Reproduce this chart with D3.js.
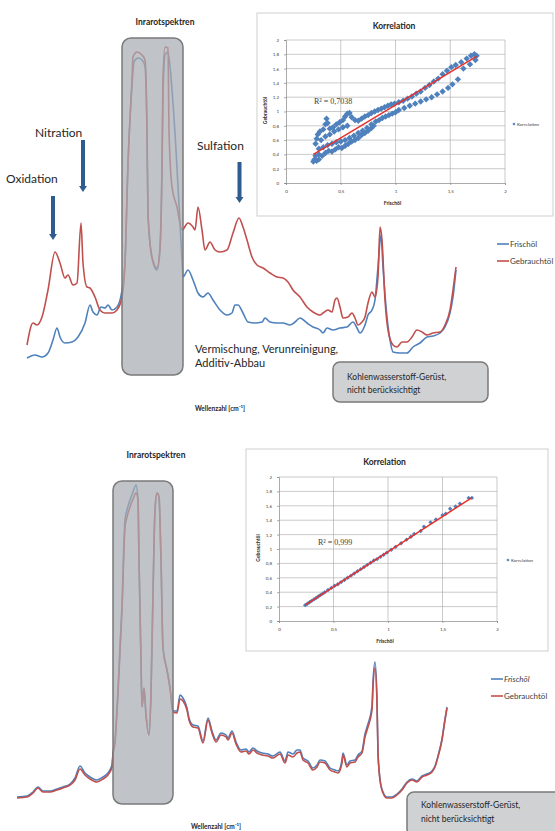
<!DOCTYPE html>
<html>
<head>
<meta charset="utf-8">
<script src="https://cdn.jsdelivr.net/npm/d3@7"></script>
<style>
  body { margin: 0; background: #fff; }
  svg { display: block; }
</style>
</head>
<body>
<div class="vis"></div>
<script>
// ---- data: spectra (Messpunkt, Absorbanz) ----
const frischTop = [
  [7,0.32],[15,0.35],[22,0.33],[28,0.37],[33,0.50],[37,0.62],[40,0.53],[45,0.47],[52,0.48],[58,0.53],
  [65,0.67],[70,0.85],[73,0.78],[77,0.75],[81,0.83],[85,0.82],[88,0.85],[92,0.80],[97,0.83],[102,1.00],
  [105,1.28],[108,2.25],[112,3.05],[114,3.28],[118,3.32],[122,3.30],[125,3.24],[127,2.55],[128,1.75],[132,1.32],
  [137,1.20],[140,1.40],[142,2.20],[143,2.95],[145,3.35],[148,3.38],[152,3.00],[156,2.40],[159,1.85],[162,1.30],
  [163,1.13],[168,1.20],[173,1.10],[178,0.97],[183,0.93],[188,0.97],[193,0.90],[200,0.80],[207,0.75],[212,0.77],
  [215,0.85],[218,0.85],[223,0.77],[228,0.68],[235,0.67],[242,0.68],[245,0.72],[250,0.68],[257,0.67],[263,0.67],
  [270,0.65],[275,0.68],[280,0.72],[287,0.67],[293,0.63],[300,0.60],[303,0.57],[307,0.62],[313,0.60],[320,0.62],
  [327,0.63],[333,0.68],[337,0.62],[340,0.57],[345,0.65],[348,0.75],[352,0.80],[355,0.90],[358,1.23],[361,1.55],
  [363,1.23],[367,0.73],[370,0.50],[373,0.38],[380,0.37],[387,0.37],[393,0.43],[400,0.47],[407,0.53],[413,0.54],
  [420,0.57],[425,0.63],[430,0.77],[433,0.93],[436,1.20]
];
const gebrauchtTop = [
  [7,0.45],[13,0.67],[17,0.65],[22,0.73],[28,1.00],[35,1.38],[40,1.27],[45,1.12],[48,1.15],[53,1.05],
  [57,1.07],[61,1.67],[63,1.27],[67,1.03],[70,1.02],[75,0.93],[80,0.80],[85,0.77],[92,0.77],[97,0.80],
  [102,0.93],[105,1.27],[108,2.27],[112,3.10],[113,3.33],[117,3.38],[122,3.35],[125,3.30],[127,2.60],[128,1.77],
  [132,1.33],[137,1.22],[140,1.43],[142,2.27],[143,3.10],[145,3.43],[148,3.42],[149,2.60],[152,2.03],[157,1.83],
  [162,1.60],[168,1.67],[173,1.63],[175,1.60],[178,1.83],[182,1.60],[185,1.40],[190,1.48],[195,1.40],
  [200,1.38],[207,1.40],[213,1.57],[219,1.72],[223,1.63],[227,1.50],[232,1.33],[237,1.25],[243,1.22],[250,1.17],
  [257,1.13],[263,1.12],[268,1.08],[273,1.00],[280,0.93],[287,0.83],[293,0.78],[300,0.75],[303,0.77],[308,0.80],
  [312,0.78],[315,0.90],[317,0.92],[320,0.83],[323,0.72],[328,0.73],[332,0.77],[335,0.72],[338,0.65],[342,0.68],
  [345,0.73],[348,0.87],[352,0.98],[355,0.93],[358,1.13],[360,1.63],[362,1.50],[365,0.90],[368,0.60],[373,0.45],
  [377,0.43],[382,0.48],[387,0.48],[392,0.53],[397,0.60],[402,0.58],[407,0.55],[413,0.57],[420,0.58],[425,0.65],
  [430,0.80],[433,1.00],[436,1.23]
];

const posBottom = [
  7,17,23,28,33,40,47,53,60,65, 70,75,80,87,93,98,102,103,105,108,
  112,115,117,120,123,126,128,129,131,132, 134,136,139,141,143,145,147,149,151,153,
  157,160,163,167,170,173,177,179,183,188, 193,198,202,206,211,216,218,222,226,231,
  236,239,243,247,252,258,263,270,275,278, 283,287,290,293,298,303,307,310,315,320,
  325,328,332,333,337,340,345,348,352,355, 358,362,363,365,367,368,370,373,377,382,
  387,392,397,402,407,412,417,422,425,428, 432,435,437
];
const gebrauchtBottom = [
  0.12,0.13,0.17,0.22,0.18,0.18,0.20,0.22,0.25,0.30, 0.41,0.35,0.31,0.28,0.31,0.35,0.43,0.55,0.67,1.17,
  2.00,2.83,2.93,3.03,3.11,3.17,3.10,2.50,1.50,1.03, 1.22,0.95,0.75,1.17,2.17,3.00,3.17,3.13,2.50,1.62,
  1.40,1.22,0.98,0.97,1.11,1.09,1.00,0.90,0.83,0.82, 0.67,0.90,0.77,0.68,0.75,0.73,0.70,0.77,0.66,0.58,
  0.59,0.56,0.60,0.57,0.55,0.54,0.52,0.56,0.47,0.55, 0.53,0.57,0.58,0.50,0.47,0.40,0.43,0.48,0.47,0.40,
  0.38,0.37,0.47,0.55,0.43,0.47,0.48,0.53,0.57,0.73, 0.83,1.00,1.23,1.42,1.07,0.57,0.30,0.17,0.12,0.12,
  0.15,0.20,0.27,0.30,0.28,0.33,0.35,0.38,0.43,0.53, 0.70,0.90,1.02
];
const frischBottom = [
  0.13,0.14,0.18,0.23,0.19,0.19,0.21,0.23,0.26,0.32, 0.44,0.37,0.33,0.30,0.33,0.37,0.45,0.57,0.69,1.20,
  2.05,2.90,3.00,3.10,3.18,3.25,3.10,2.50,1.50,1.03, 1.22,0.95,0.75,1.17,2.17,3.00,3.17,3.13,2.50,1.62,
  1.40,1.22,0.99,0.99,1.15,1.12,1.02,0.92,0.85,0.84, 0.69,0.92,0.79,0.70,0.77,0.75,0.72,0.79,0.68,0.60,
  0.61,0.58,0.62,0.59,0.57,0.56,0.54,0.58,0.49,0.58, 0.56,0.60,0.60,0.52,0.49,0.42,0.45,0.50,0.49,0.42,
  0.40,0.39,0.50,0.57,0.45,0.49,0.50,0.55,0.59,0.76, 0.86,1.04,1.28,1.48,1.10,0.58,0.31,0.18,0.13,0.13,
  0.16,0.21,0.28,0.31,0.29,0.34,0.36,0.39,0.44,0.54, 0.71,0.91,1.03
];

// ---- data: Korrelation (Frischöl, Gebrauchtöl) ----
const korrTop = [
  [0.25,0.30],[0.26,0.33],[0.28,0.31],[0.30,0.33],[0.27,0.38],[0.30,0.40],[0.33,0.38],[0.36,0.42],[0.39,0.45],[0.42,0.44],
  [0.45,0.47],[0.48,0.50],[0.51,0.49],[0.54,0.52],[0.57,0.55],[0.60,0.58],[0.63,0.60],[0.66,0.63],[0.69,0.67],[0.72,0.70],
  [0.75,0.73],[0.78,0.77],[0.80,0.80],
  [0.30,0.48],[0.34,0.50],[0.38,0.53],[0.42,0.55],[0.46,0.57],[0.50,0.58],[0.54,0.60],[0.58,0.63],[0.62,0.66],[0.66,0.70],
  [0.70,0.73],[0.74,0.77],[0.78,0.82],
  [0.27,0.55],[0.28,0.62],[0.29,0.68],[0.31,0.72],[0.34,0.75],[0.36,0.82],[0.37,0.90],[0.38,0.84],[0.40,0.76],[0.43,0.78],
  [0.46,0.82],[0.49,0.85],[0.52,0.88],[0.54,0.93],[0.56,0.97],[0.58,0.98],[0.60,0.92],[0.63,0.88],[0.66,0.87],[0.69,0.90],
  [0.72,0.93],[0.75,0.95],[0.78,0.98],[0.81,1.00],[0.84,1.02],[0.87,1.04],[0.90,1.06],[0.93,1.08],[0.96,1.10],[0.99,1.11],
  [0.32,0.60],[0.36,0.65],[0.40,0.68],[0.44,0.72],[0.48,0.75],[0.52,0.78],[0.56,0.80],
  [0.82,0.86],[0.85,0.88],[0.88,0.91],[0.91,0.93],[0.94,0.95],[0.97,0.97],[1.00,0.99],
  [1.03,1.13],[1.07,1.15],[1.11,1.18],[1.15,1.21],[1.19,1.25],[1.23,1.28],[1.27,1.33],[1.31,1.37],[1.35,1.42],[1.39,1.46],
  [1.43,1.52],[1.47,1.57],[1.51,1.62],[1.55,1.65],[1.60,1.69],[1.65,1.74],[1.69,1.78],[1.72,1.80],[1.74,1.78],
  [1.03,1.02],[1.08,1.05],[1.13,1.08],[1.18,1.11],[1.23,1.14],[1.28,1.17],[1.33,1.20],[1.38,1.24],[1.43,1.28],[1.48,1.33],
  [1.52,1.38],[1.57,1.45],[1.62,1.60],[1.68,1.66],[1.73,1.72]
];
const korrBottomX = [
  0.24,0.26,0.28,0.30,0.32,0.34,0.36,0.38,0.40,0.42,0.45,0.48,0.51,0.54,0.57,0.60,0.63,0.66,0.69,0.72,
  0.75,0.78,0.81,0.84,0.87,0.90,0.93,0.96,0.99,1.03,1.07,1.12,1.17,1.21,1.24,1.30,1.33,1.39,1.44,1.50,
  1.53,1.57,1.62,1.66,1.74,1.77
];
const korrBottomY = [
  0.22,0.24,0.26,0.28,0.30,0.32,0.34,0.36,0.38,0.40,0.43,0.46,0.49,0.51,0.54,0.57,0.60,0.63,0.66,0.69,
  0.72,0.75,0.78,0.81,0.84,0.86,0.89,0.92,0.95,0.99,1.03,1.08,1.13,1.17,1.21,1.25,1.31,1.37,1.41,1.47,
  1.49,1.56,1.59,1.63,1.71,1.71
];
// linear trend: [slope, intercept], R²
const trendTop = [0.92, 0.17];
const trendBottom = [0.975, -0.012];
const r2Labels = ['R² = 0,7038', 'R² = 0,999'];

const korrTicksY = [0, 0.2, 0.4, 0.6, 0.8, 1, 1.2, 1.4, 1.6, 1.8, 2];
const korrTicksX = [0, 0.5, 1, 1.5, 2];
const seriesNames = ['Frischöl', 'Gebrauchtöl'];

// ---- drawing ----
const width = 555, height = 831;
const blue = '#4f81bd', red = '#c0504d', arrowCol = '#2e5c8e';
const font = 'Lato, "Open Sans", sans-serif';

let svg = d3.select('.vis').append('svg')
    .attr('width', width)
    .attr('height', height)
    .style('font-family', font);

function drawSpectrum(x, y, frisch, gebraucht) {
    let line = d3.line()
        .x(function (d) { return x(d[0]); })
        .y(function (d) { return y(d[1]); })
        .curve(d3.curveMonotoneX);
    svg.append('path').datum(frisch)
        .attr('d', line).attr('fill', 'none')
        .attr('stroke', blue).attr('stroke-width', 1.6);
    svg.append('path').datum(gebraucht)
        .attr('d', line).attr('fill', 'none')
        .attr('stroke', red).attr('stroke-width', 1.6);
}

function grayBox(x0, y0, w, h, rx, fill, op) {
    svg.append('rect')
        .attr('x', x0).attr('y', y0).attr('width', w).attr('height', h)
        .attr('rx', rx).attr('ry', rx)
        .attr('fill', fill).attr('fill-opacity', op)
        .attr('stroke', '#7a7a7a').attr('stroke-width', 1.5);
}

function label(x0, y0, txt, size, weight, anchor, col) {
    return svg.append('text')
        .attr('x', x0).attr('y', y0)
        .attr('font-size', size)
        .attr('font-weight', weight || 'normal')
        .attr('text-anchor', anchor || 'start')
        .attr('fill', col || '#262626')
        .text(txt);
}

function arrow(x, y, xv, yFrom, yTo) {
    let px = x(xv), a = y(yFrom), b = y(yTo);
    svg.append('rect')
        .attr('x', px - 2).attr('y', a).attr('width', 4).attr('height', b - a - 5)
        .attr('fill', arrowCol);
    svg.append('path')
        .attr('d', 'M' + (px - 4) + ',' + (b - 6) + 'L' + (px + 4) + ',' + (b - 6) + 'L' + px + ',' + b + 'Z')
        .attr('fill', arrowCol);
}

function legend(x0, y0, gap, size, italicFirst) {
    seriesNames.forEach(function (name, i) {
        svg.append('line')
            .attr('x1', x0).attr('x2', x0 + 12)
            .attr('y1', y0 + i * gap - 3).attr('y2', y0 + i * gap - 3)
            .attr('stroke', i === 0 ? blue : red).attr('stroke-width', 1.6);
        label(x0 + 13, y0 + i * gap, name, size, 'normal', 'start', '#404040')
            .attr('font-style', (i === 0 && italicFirst) ? 'italic' : 'normal');
    });
}

function drawInset(c) {
    let g = svg.append('g');
    g.append('rect')
        .attr('x', c.box[0]).attr('y', c.box[1]).attr('width', c.box[2]).attr('height', c.box[3])
        .attr('fill', '#fff').attr('stroke', '#cfcfcf').attr('stroke-width', 1);

    let x = d3.scaleLinear().domain([0, 2]).range([c.plot[0], c.plot[1]]);
    let y = d3.scaleLinear().domain([0, 2]).range([c.plot[2], c.plot[3]]);
    let fmt = function (d) { return String(d).replace('.', ','); };

    g.selectAll('.hg').data(korrTicksY.slice(1)).enter().append('line')
        .attr('x1', x(0)).attr('x2', x(2))
        .attr('y1', function (d) { return y(d); }).attr('y2', function (d) { return y(d); })
        .attr('stroke', '#a6a6a6').attr('stroke-width', 0.6);
    g.selectAll('.vg').data(korrTicksX.slice(1)).enter().append('line')
        .attr('y1', y(0)).attr('y2', y(2))
        .attr('x1', function (d) { return x(d); }).attr('x2', function (d) { return x(d); })
        .attr('stroke', '#a6a6a6').attr('stroke-width', 0.6);

    let ay = g.append('g').attr('transform', 'translate(' + x(0) + ',0)')
        .call(d3.axisLeft(y).tickValues(korrTicksY).tickSize(2).tickPadding(5).tickFormat(fmt));
    let ax = g.append('g').attr('transform', 'translate(0,' + y(0) + ')')
        .call(d3.axisBottom(x).tickValues(korrTicksX).tickSize(2).tickPadding(5).tickFormat(fmt));
    [ay, ax].forEach(function (a) {
        a.selectAll('path, line').attr('stroke', '#868686').attr('stroke-width', 0.7);
        a.selectAll('text').attr('font-size', 4.5).attr('fill', '#404040').attr('font-family', font);
    });

    let diamond = function (r) { return 'M0,' + (-r) + 'L' + r + ',0L0,' + r + 'L' + (-r) + ',0Z'; };
    g.selectAll('.pt').data(c.points).enter().append('path')
        .attr('d', diamond(c.r))
        .attr('transform', function (d) { return 'translate(' + x(d[0]) + ',' + y(d[1]) + ')'; })
        .attr('fill', blue);

    let xe = d3.extent(c.points, function (d) { return d[0]; });
    g.append('line')
        .attr('x1', x(xe[0])).attr('y1', y(c.trend[0] * xe[0] + c.trend[1]))
        .attr('x2', x(xe[1])).attr('y2', y(c.trend[0] * xe[1] + c.trend[1]))
        .attr('stroke', '#e8302b').attr('stroke-width', 1.5);

    g.append('text').attr('x', c.r2[0]).attr('y', c.r2[1])
        .attr('font-family', '"Liberation Serif", serif').attr('font-size', 8)
        .attr('fill', '#404040').text(c.r2[2]);

    g.append('text').attr('x', (c.box[0] + c.plot[1]) / 2 + 13).attr('y', c.box[1] + 16)
        .attr('text-anchor', 'middle').attr('font-size', 8.5).attr('font-weight', 'bold')
        .attr('fill', '#262626').text('Korrelation');
    g.append('text').attr('x', (x(0) + x(2)) / 2 - 3).attr('y', y(0) + 22)
        .attr('text-anchor', 'middle').attr('font-size', 5).attr('font-weight', 'bold')
        .attr('fill', '#262626').text('Frischöl');
    g.append('text')
        .attr('transform', 'translate(' + (x(0) - 19) + ',' + (y(1) - 1) + ') rotate(-90)')
        .attr('text-anchor', 'middle').attr('font-size', 5).attr('font-weight', 'bold')
        .attr('fill', '#262626').text('Gebrauchtöl');

    g.append('path').attr('d', diamond(1.6))
        .attr('transform', 'translate(' + c.leg[0] + ',' + c.leg[1] + ')').attr('fill', blue);
    g.append('text').attr('x', c.leg[0] + 3).attr('y', c.leg[1] + 1.6)
        .attr('font-size', 4.5).attr('fill', '#404040').text('Korrelation');
}

// ---------- upper panel ----------
let xTop = d3.scaleLinear().domain([0, 440]).range([20, 460]);
let yTop = d3.scaleLinear().domain([0, 3.5]).range([390, 40]);

drawSpectrum(xTop, yTop, frischTop, gebrauchtTop);
grayBox(xTop(102), yTop(3.52), xTop(163) - xTop(102), yTop(0.15) - yTop(3.52), 9, '#a8acb1', 0.72);
label(165, 25, 'Inrarotspektren', 8.5, 'bold', 'middle');

arrow(xTop, yTop, 33, 1.94, 1.50);
arrow(xTop, yTop, 63, 2.50, 1.98);
arrow(xTop, yTop, 219.5, 2.28, 1.87);
label(6, 183, 'Oxidation', 12);
label(35, 137, 'Nitration', 12);
label(197, 150, 'Sulfation', 12);
label(195, 353, 'Vermischung, Verunreinigung,', 11);
label(195, 367, 'Additiv-Abbau', 11);

grayBox(333, 362, 155, 40, 7, '#d0d1d3', 1);
label(347, 380, 'Kohlenwasserstoff-Gerüst,', 8.5);
label(347, 393, 'nicht berücksichtigt', 8.5);
label(220, 411, 'Wellenzahl [cm⁻¹]', 6.5, 'bold', 'middle');
legend(497, 247, 17, 8, false);

drawInset({
    box: [257, 13, 296, 203], plot: [286, 505, 183, 40],
    points: korrTop, r: 3.2, trend: trendTop,
    r2: [314, 104, r2Labels[0]], leg: [514, 124]
});

// ---------- lower panel ----------
let xBot = d3.scaleLinear().domain([0, 450]).range([10, 460]);
let yBot = d3.scaleLinear().domain([0, 3.5]).range([810, 460]);

drawSpectrum(xBot, yBot,
    posBottom.map(function (p, i) { return [p, frischBottom[i]]; }),
    posBottom.map(function (p, i) { return [p, gebrauchtBottom[i]]; }));
grayBox(xBot(103), yBot(3.29), xBot(163) - xBot(103), yBot(0.06) - yBot(3.29), 9, '#a8acb1', 0.72);
label(156, 458, 'Inrarotspektren', 8.5, 'bold', 'middle');

grayBox(407, 792, 160, 44, 7, '#d0d1d3', 1);
label(421, 808, 'Kohlenwasserstoff-Gerüst,', 8.5);
label(421, 822, 'nicht berücksichtigt', 8.5);
label(216, 829, 'Wellenzahl [cm⁻¹]', 6.5, 'bold', 'middle');
legend(491, 682, 17, 8, true);

drawInset({
    box: [246, 449, 302, 202], plot: [279, 497, 621, 477],
    points: korrBottomX.map(function (v, i) { return [v, korrBottomY[i]]; }), r: 2.2, trend: trendBottom,
    r2: [318, 545, r2Labels[1]], leg: [508, 560]
});
</script>
</body>
</html>
